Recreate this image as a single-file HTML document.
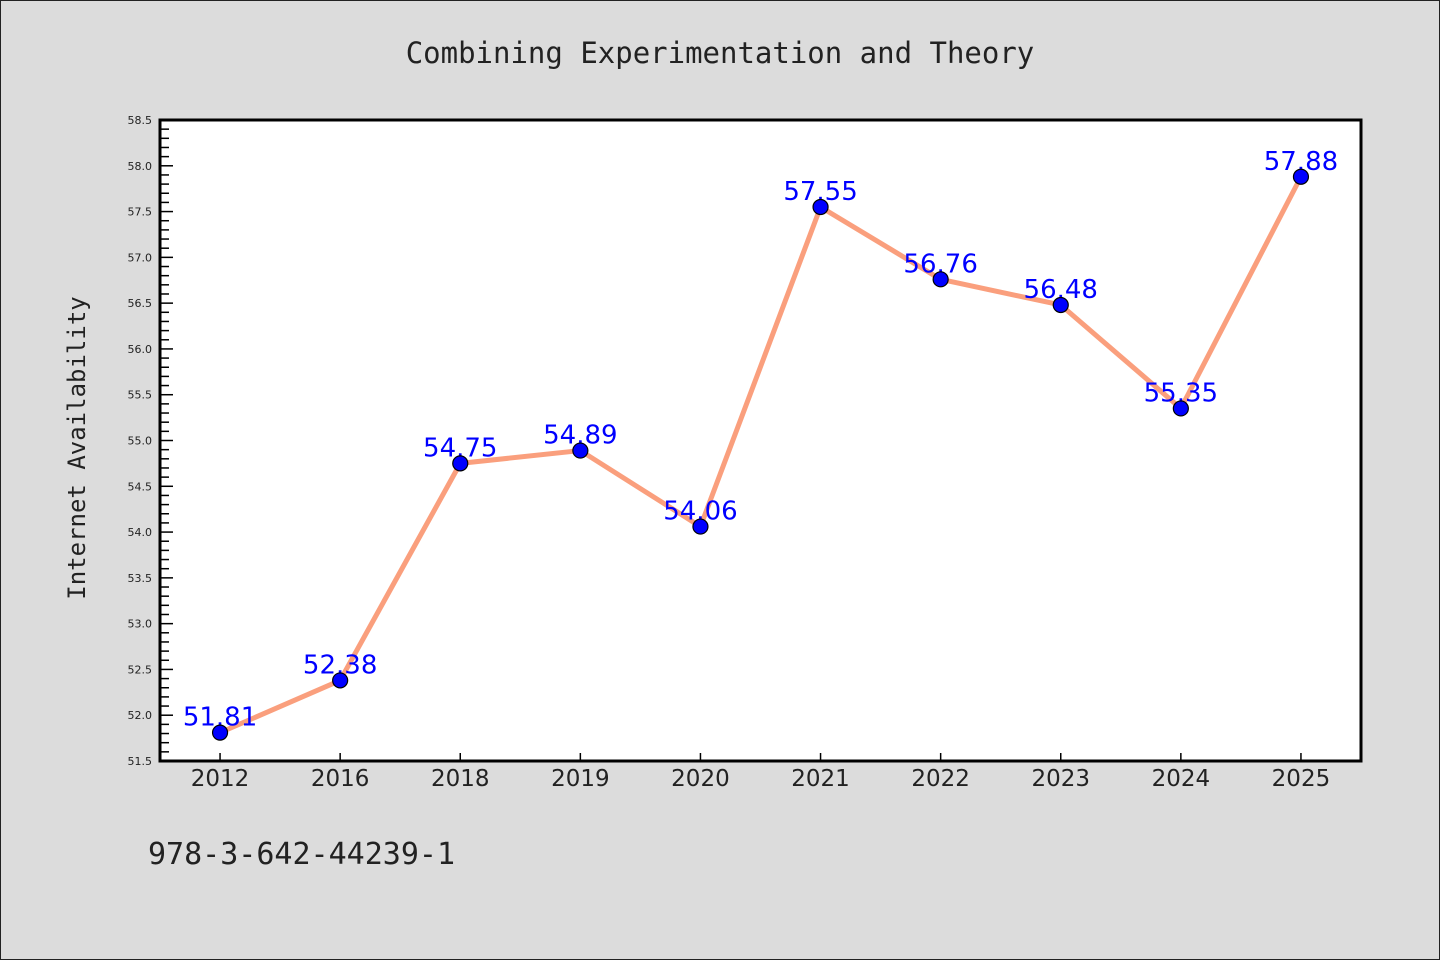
<!DOCTYPE html>
<html><head><meta charset="utf-8"><style>
body{margin:0;background:#dcdcdc;}
svg{display:block;}
</style></head><body>
<svg id="chart" width="1440" height="960" viewBox="0 0 1440 960" xmlns="http://www.w3.org/2000/svg">
<rect x="0.5" y="0.5" width="1439" height="959" fill="#dcdcdc" stroke="#222"/>
<text x="720" y="63" text-anchor="middle" font-family="'DejaVu Sans Mono','Liberation Mono',monospace" font-size="29" fill="#222">Combining Experimentation and Theory</text>
<rect x="160" y="120" width="1201" height="641" fill="#fff"/>
<g id="axes"></g>
<g id="series"></g>
<rect x="160" y="120" width="1201" height="641" fill="none" stroke="#000" stroke-width="3"/>
<text transform="translate(85,448) rotate(-90)" text-anchor="middle" font-family="'DejaVu Sans Mono','Liberation Mono',monospace" font-size="24" fill="#222">Internet Availability</text>
<text x="148" y="864" font-family="'DejaVu Sans Mono','Liberation Mono',monospace" font-size="30" fill="#222">978-3-642-44239-1</text>
</svg>
<script>
const categories = ["2012","2016","2018","2019","2020","2021","2022","2023","2024","2025"];
const values = [51.81,52.38,54.75,54.89,54.06,57.55,56.76,56.48,55.35,57.88];
const yTicks = [51.5,52.0,52.5,53.0,53.5,54.0,54.5,55.0,55.5,56.0,56.5,57.0,57.5,58.0,58.5];
const NS="http://www.w3.org/2000/svg";
const L=160,R=1361,T=120,B=761,yMin=51.5,yMax=58.5;
const band=(R-L)/categories.length;
function xs(i){return L+band*(i+0.5);}
function ys(v){return B-(v-yMin)/(yMax-yMin)*(B-T);}
function mk(tag,attrs,parent){const e=document.createElementNS(NS,tag);for(const k in attrs)e.setAttribute(k,attrs[k]);parent.appendChild(e);return e;}
const ax=document.getElementById('axes'),sr=document.getElementById('series');
for(let v=yMin;v<=yMax+1e-9;v+=0.1){
  const major=yTicks.some(t=>Math.abs(t-v)<1e-6);
  const y=ys(v);
  const t=mk('line',{x1:L,x2:L+(major?13:9),y1:y,y2:y,stroke:'#000','stroke-width':1.5},ax);
  
  
}
yTicks.forEach(v=>{
  const t=mk('text',{x:L-8,y:ys(v)+4,'text-anchor':'end','font-family':"'DejaVu Sans','Liberation Sans',sans-serif",'font-size':11,fill:'#222'},ax);
  t.textContent=v.toFixed(1);
  
  
});
categories.forEach((c,i)=>{
  const tk=mk('line',{x1:xs(i),x2:xs(i),y1:B,y2:B-8,stroke:'#000','stroke-width':1.5},ax);
  
  
  const t=mk('text',{x:xs(i),y:B+25,'text-anchor':'middle','font-family':"'DejaVu Sans','Liberation Sans',sans-serif",'font-size':23,fill:'#222'},ax);
  t.textContent=c;
  
  
});
const pts=values.map((v,i)=>xs(i)+','+ys(v)).join(' ');
const line=mk('polyline',{points:pts,fill:'none',stroke:'#fa9f7d','stroke-width':5,'stroke-linejoin':'round'},sr);


values.forEach((v,i)=>{
  const t=mk('text',{x:xs(i),y:ys(v)-7,'text-anchor':'middle','font-family':"'DejaVu Sans','Liberation Sans',sans-serif",'font-size':26,fill:'#0000ff'},sr);
  t.textContent=v.toFixed(2);
  
  
  const c=mk('circle',{cx:xs(i),cy:ys(v),r:7.5,fill:'#0000ff',stroke:'#000','stroke-width':1.2},sr);
  
  
});
</script>
</body></html>
